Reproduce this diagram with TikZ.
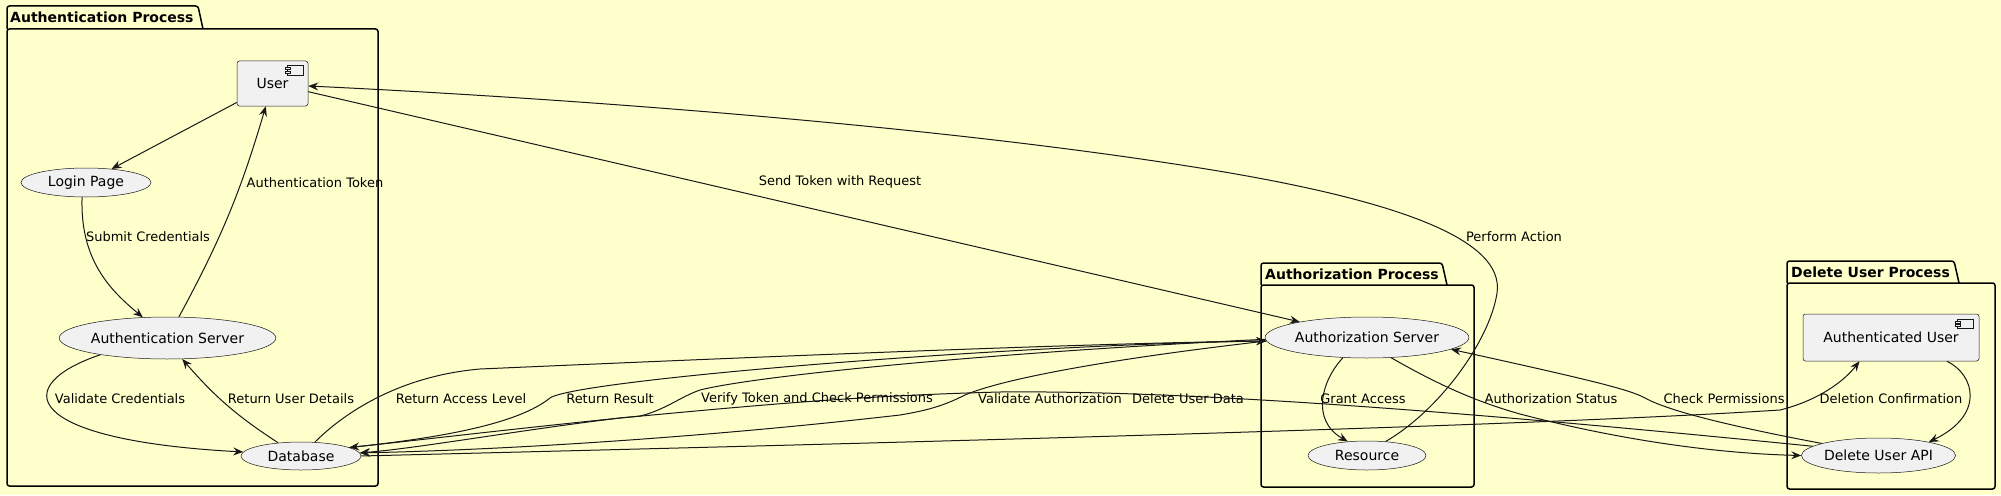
\documentclass[tikz,border=0pt]{standalone}
\usepackage{fontspec}
\setmainfont{DejaVu Sans}
\usetikzlibrary{shapes.geometric,arrows.meta}

\definecolor{bgyellow}{HTML}{FFFFCC}
\definecolor{nodegray}{HTML}{F1F1F1}
\definecolor{linegray}{HTML}{181818}

\begin{document}
\begin{tikzpicture}[x=1pt, y=-1pt,
    usecase/.style={draw=linegray, line width=0.5pt, fill=nodegray, ellipse, inner sep=0pt, font=\fontsize{14}{16}\selectfont},
    comp/.style={draw=linegray, line width=0.5pt, fill=nodegray, rectangle, rounded corners=2.5pt, inner sep=0pt, font=\fontsize{14}{16}\selectfont},
    compicon/.style={draw=linegray, line width=0.5pt, fill=nodegray},
    pkg/.style={draw=black, line width=1.5pt, rounded corners=2.5pt},
    pkgtitle/.style={anchor=west, inner sep=0pt, font=\bfseries\fontsize{14}{16}\selectfont},
    lbl/.style={inner sep=0pt, font=\fontsize{13}{15}\selectfont},
    arr/.style={draw=linegray, line width=1pt, -{Stealth[length=10pt,width=8pt,inset=3.5pt]}}]
    \useasboundingbox (0,0) rectangle (2001,495);
    \fill[bgyellow] (0,0) rectangle (2001,495);

    % Packages
    \draw[pkg] (7,29) -- (7,6) -- (198,6) -- (203,29);
    \draw[pkg] (7,29) rectangle (378,486);
    \node[pkgtitle] (tAuthn) at (10,17.5) {Authentication Process};

    \draw[pkg] (1261,285) -- (1261,263) -- (1442,263) -- (1447,285);
    \draw[pkg] (1261,285) rectangle (1474,487);
    \node[pkgtitle] (tAuthz) at (1265,274) {Authorization Process};

    \draw[pkg] (1787,283) -- (1787,261) -- (1954,261) -- (1959,283);
    \draw[pkg] (1787,283) rectangle (1995,489);
    \node[pkgtitle] (tDelete) at (1791,272) {Delete User Process};

    % Authentication Process
    \node[comp, minimum width=71pt, minimum height=45pt] (user) at (272.5,83.5) {User};
    \node[usecase, minimum width=130pt, minimum height=29pt] (login) at (86,182.5) {Login Page};
    \node[usecase, minimum width=191pt, minimum height=42pt] (authsrv) at (167.5,338) {Authentication Server};
    \node[usecase, minimum width=120pt, minimum height=28pt] (db) at (301,456) {Database};

    % Authorization Process
    \node[usecase, minimum width=184pt, minimum height=41pt] (authz) at (1367,337.5) {Authorization Server};
    \node[usecase, minimum width=118pt, minimum height=29pt] (res) at (1367,455.5) {Resource};

    % Delete User Process
    \node[comp, minimum width=176pt, minimum height=47pt] (authuser) at (1891,337.5) {Authenticated User};
    \node[usecase, minimum width=153pt, minimum height=35pt] (delapi) at (1878.5,455.5) {Delete User API};

    % Component icons
    \draw[compicon, shift={(user.north east)}] (-21,5) rectangle (-5,14);
    \draw[compicon, shift={(user.north east)}] (-23.5,6.7) rectangle (-18.5,8.7);
    \draw[compicon, shift={(user.north east)}] (-23.5,10.3) rectangle (-18.5,12.3);
    \draw[compicon, shift={(authuser.north east)}] (-22,5) rectangle (-6,14.5);
    \draw[compicon, shift={(authuser.north east)}] (-24.5,7) rectangle (-19.5,9);
    \draw[compicon, shift={(authuser.north east)}] (-24.5,10.5) rectangle (-19.5,12.5);

    % Connections inside Authentication Process
    \draw[arr] (user) -- (login);
    \draw[arr] (login.255) .. controls (80,260) and (110,290) .. (authsrv.140);
    \draw[arr] (authsrv) to[bend right=6] (user);
    \draw[arr] (authsrv.194) .. controls (10,385) and (20,440) .. (db.176);
    \draw[arr] (db.150) to[bend left=8] (authsrv.305);

    % Connections between Database and Authorization Server
    \draw[arr] (db.45) .. controls (345,412) and (400,376) .. (480,369) .. controls (800,355) and (1100,343) .. (authz.182);
    \draw[arr] (db.10) .. controls (470,435) and (525,418) .. (550,398) .. controls (575,380) and (1000,345) .. (authz.182);
    \draw[arr] (authz.181) .. controls (1000,352) and (760,375) .. (700,390) .. controls (680,397) and (665,410) .. (640,416) .. controls (520,428) and (420,440) .. (db.10);
    \draw[arr] (authz.182) .. controls (1100,360) and (1000,380) .. (965,395) .. controls (945,405) and (930,410) .. (900,415) .. controls (700,438) and (500,450) .. (db.3);

    % Connections of Delete User Process
    \draw[arr] (delapi.172) .. controls (1500,415) and (1200,390) .. (1000,392) .. controls (850,396) and (750,406) .. (620,418) .. controls (520,430) and (420,448) .. (db.3);
    \draw[arr] (db.0) .. controls (800,445) and (1500,428) .. (1780,410) .. controls (1820,400) and (1845,380) .. (authuser.217);
    \draw[arr] (authuser.-23) .. controls (1975,375) and (1985,415) .. (delapi.15);
    \draw[arr] (delapi.168) .. controls (1740,428) and (1670,412) .. (1645,398) .. controls (1630,390) and (1600,382) .. (authz.-8);
    \draw[arr] (authz.-40) .. controls (1430,380) and (1470,400) .. (1520,414) .. controls (1600,435) and (1700,453) .. (delapi.180);

    % Connections of Authorization Process
    \draw[arr] (user) -- (authz);
    \draw[arr] (authz.220) .. controls (1322,380) and (1310,420) .. (res.144);
    \draw[arr] (res.37) .. controls (1440,410) and (1490,340) .. (1497,293) .. controls (1505,240) and (1400,200) .. (1200,168) .. controls (900,120) and (500,95) .. (user.-4);

    % Labels
    \node[lbl] (lbAuthToken) at (315,183) {Authentication Token};
    \node[lbl] (lbSubmit) at (148,237) {Submit Credentials};
    \node[lbl] (lbValCred) at (120,399) {Validate Credentials};
    \node[lbl] (lbUserDet) at (291,399) {Return User Details};
    \node[lbl] (lbAccess) at (461,399) {Return Access Level};
    \node[lbl] (lbResult) at (610,399) {Return Result};
    \node[lbl] (lbVerify) at (817,399) {Verify Token and Check Permissions};
    \node[lbl] (lbValAuth) at (1050,399) {Validate Authorization};
    \node[lbl] (lbDelData) at (1188,399) {Delete User Data};
    \node[lbl] (lbGrant) at (1363,399) {Grant Access};
    \node[lbl] (lbStatus) at (1551,399) {Authorization Status};
    \node[lbl] (lbCheck) at (1724,399) {Check Permissions};
    \node[lbl] (lbConfirm) at (1891,399) {Deletion Confirmation};
    \node[lbl] (lbSend) at (840,182) {Send Token with Request};
    \node[lbl] (lbPerform) at (1514,237) {Perform Action};
\end{tikzpicture}
\end{document}
